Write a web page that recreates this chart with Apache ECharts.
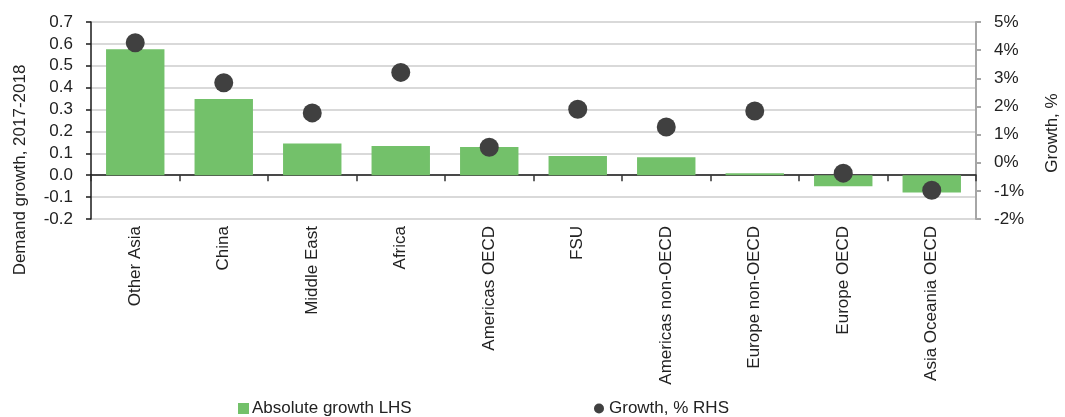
<!DOCTYPE html>
<html>
<head>
<meta charset="utf-8">
<script src="https://cdn.jsdelivr.net/npm/echarts@6/dist/echarts.min.js"></script>
<style>
  html, body { margin: 0; padding: 0; background: #fff; }
  #chart { width: 1065px; height: 417px; }
</style>
</head>
<body>
<div id="chart"></div>
<script>
// Oil demand growth by region, 2017-2018
const regions = ['Other Asia', 'China', 'Middle East', 'Africa', 'Americas OECD', 'FSU',
  'Americas non-OECD', 'Europe non-OECD', 'Europe OECD', 'Asia Oceania OECD'];
// Absolute growth (left axis)
const absoluteGrowth = [0.576, 0.348, 0.145, 0.134, 0.129, 0.088, 0.082, 0.009, -0.050, -0.079];
// Growth in percent (right axis)
const growthPct = [4.26, 2.84, 1.77, 3.21, 0.55, 1.90, 1.27, 1.84, -0.37, -0.98];

const leftTicks = { min: -0.2, max: 0.7, interval: 0.1 };
const rightTicks = { min: -2, max: 5, interval: 1 };

const FONT = '"Liberation Sans", Arial, sans-serif';
const TEXT = '#222';

const chart = echarts.init(document.getElementById('chart'), null, { renderer: 'canvas' });

chart.setOption({
  animation: false,
  textStyle: { fontFamily: FONT, color: TEXT },
  grid: { left: 91, right: 89, top: 22, bottom: 198, containLabel: false },
  legend: [
    {
      left: 233, top: 395, itemWidth: 11, itemHeight: 11,
      data: [{ name: 'Absolute growth LHS', icon: 'rect' }],
      textStyle: { fontFamily: FONT, fontSize: 17, color: TEXT, padding: [0, 0, 0, -2] }
    },
    {
      left: 589, top: 395, itemWidth: 10, itemHeight: 10,
      data: [{ name: 'Growth, % RHS', icon: 'circle' }],
      textStyle: { fontFamily: FONT, fontSize: 17, color: TEXT }
    }
  ],
  xAxis: [
    {
      // category labels along the bottom of the plot
      type: 'category', data: regions, position: 'bottom',
      axisLine: { show: false, onZero: false },
      axisTick: { show: false },
      axisLabel: { rotate: 90, margin: 7, fontSize: 17, color: TEXT, fontFamily: FONT, interval: 0 },
      splitLine: { show: false }
    },
    {
      // zero line with category boundary ticks
      type: 'category', data: regions, position: 'bottom',
      axisLine: { show: true, onZero: true, onZeroAxisIndex: 0, lineStyle: { color: '#1a1a1a', width: 1.5 } },
      axisTick: { show: true, interval: 0, alignWithLabel: false, length: 6, lineStyle: { color: '#333', width: 1.5 } },
      axisLabel: { show: false, interval: 0 },
      splitLine: { show: false }
    }
  ],
  yAxis: [
    {
      type: 'value', position: 'left',
      min: leftTicks.min, max: leftTicks.max, interval: leftTicks.interval,
      axisLine: { show: true, onZero: false, lineStyle: { color: '#1a1a1a', width: 1.5 } },
      axisTick: { show: true, length: 5, lineStyle: { color: '#1a1a1a', width: 1.5 } },
      axisLabel: { margin: 18, fontSize: 17, color: TEXT, fontFamily: FONT,
        formatter: v => v.toFixed(1) },
      splitLine: { show: true, lineStyle: { color: '#d9d9d9', width: 2 } }
    },
    {
      type: 'value', position: 'right',
      min: rightTicks.min, max: rightTicks.max, interval: rightTicks.interval,
      axisLine: { show: true, onZero: false, lineStyle: { color: '#a6a6a6', width: 2 } },
      axisTick: { show: true, length: 5, lineStyle: { color: '#a6a6a6', width: 2 } },
      axisLabel: { margin: 18, fontSize: 17, color: TEXT, fontFamily: FONT,
        formatter: v => v + '%' },
      splitLine: { show: false }
    }
  ],
  graphic: [
    {
      type: 'text', x: 20, y: 170, rotation: Math.PI / 2,
      style: { text: 'Demand growth, 2017-2018', font: '17px ' + FONT, fill: TEXT,
        textAlign: 'center', textVerticalAlign: 'middle' }
    },
    {
      type: 'text', x: 1052, y: 133, rotation: Math.PI / 2,
      style: { text: 'Growth, %', font: '17px ' + FONT, fill: TEXT,
        textAlign: 'center', textVerticalAlign: 'middle' }
    }
  ],
  series: [
    {
      name: 'Absolute growth LHS', type: 'bar',
      xAxisIndex: 0, yAxisIndex: 0,
      data: absoluteGrowth,
      barCategoryGap: '34%',
      itemStyle: { color: '#73c16a' },
      z: 2
    },
    {
      name: 'Growth, % RHS', type: 'scatter',
      xAxisIndex: 0, yAxisIndex: 1,
      data: growthPct,
      symbol: 'circle', symbolSize: 19,
      itemStyle: { color: '#404040', opacity: 1 },
      z: 5
    }
  ]
});
</script>
</body>
</html>
